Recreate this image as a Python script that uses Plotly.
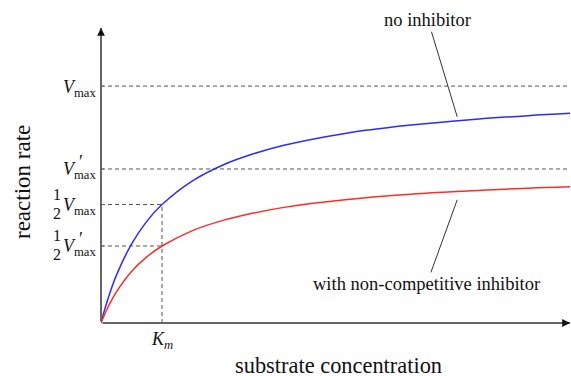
import plotly.graph_objects as go

# ---- data (Km = 1 unit, Vmax = 1 unit) ----
substrate = [0, 0.05, 0.1, 0.15, 0.25, 0.5, 0.75, 1.0, 1.5, 2.0, 2.5, 3.0, 4.0, 5.0, 6.0, 7.0, 7.7]
rate_no_inhibitor = [0, 0.048, 0.091, 0.130, 0.200, 0.333, 0.429, 0.500, 0.600, 0.667, 0.714,
                     0.750, 0.800, 0.833, 0.857, 0.875, 0.885]
rate_noncompetitive = [0, 0.031, 0.059, 0.085, 0.130, 0.217, 0.279, 0.325, 0.390, 0.433, 0.464,
                       0.488, 0.520, 0.542, 0.557, 0.569, 0.575]
Vmax = 1.0
Vmax_prime = 0.65
Km = 1.0
x_max = 469 / 61
y_max = 1.245

FONT = "Liberation Serif"
AX = "#666666"
DASH = "#555555"

fig = go.Figure()
fig.add_trace(go.Scatter(x=substrate, y=rate_no_inhibitor, mode="lines",
                         line=dict(color="#2b2bff", width=1.5, shape="spline"),
                         showlegend=False, hoverinfo="skip"))
fig.add_trace(go.Scatter(x=substrate, y=rate_noncompetitive, mode="lines",
                         line=dict(color="#ff2a2a", width=1.5, shape="spline"),
                         showlegend=False, hoverinfo="skip"))

shapes = []
dash = dict(color=DASH, width=1, dash="4px,3px")
for v in (Vmax, Vmax_prime):
    shapes.append(dict(type="line", xref="paper", yref="y", x0=0, x1=1, y0=v, y1=v,
                       line=dash, layer="below"))
for v in (Vmax / 2, Vmax_prime / 2):
    shapes.append(dict(type="line", xref="x", yref="y", x0=0, x1=Km, y0=v, y1=v,
                       line=dash, layer="below"))
shapes.append(dict(type="line", xref="x", yref="y", x0=Km, x1=Km, y0=0, y1=Vmax / 2,
                   line=dash, layer="below"))
# y-tick marks
for v in (Vmax, Vmax_prime, Vmax / 2, Vmax_prime / 2):
    shapes.append(dict(type="line", xref="x", yref="y", xsizemode="pixel", xanchor=0,
                       x0=0, x1=3, y0=v, y1=v, line=dict(color=AX, width=1)))
# fraction bars
for v in (Vmax / 2, Vmax_prime / 2):
    shapes.append(dict(type="line", xref="x", yref="y", xsizemode="pixel", ysizemode="pixel",
                       xanchor=0, yanchor=v, x0=-49, x1=-38, y0=1, y1=1,
                       line=dict(color="#111", width=1)))

annotations = []
# axes with arrows
annotations.append(dict(x=0, y=y_max, ax=0, ay=0, xref="x", yref="y", axref="x", ayref="y",
                        showarrow=True, arrowhead=0, arrowwidth=2, arrowcolor=AX, text=""))
annotations.append(dict(x=x_max, y=0, ax=0, ay=0, xref="x", yref="y", axref="x", ayref="y",
                        showarrow=True, arrowhead=0, arrowwidth=2, arrowcolor=AX, text=""))
annotations.append(dict(x=0, y=y_max, ax=0, ay=6, xref="x", yref="y",
                        showarrow=True, arrowhead=2, arrowsize=1.3, arrowwidth=1.2, arrowcolor="#111", text=""))
annotations.append(dict(x=x_max, y=0, ax=-6, ay=0, xref="x", yref="y",
                        showarrow=True, arrowhead=2, arrowsize=1.3, arrowwidth=1.2, arrowcolor="#111", text=""))

tf = dict(family=FONT, size=18, color="#111")
# y tick labels
for v in (Vmax, Vmax_prime, Vmax / 2, Vmax_prime / 2):
    annotations.append(dict(x=0, y=v, xref="x", yref="y", xanchor="right", yanchor="middle",
                            xshift=-3, yshift=-2, showarrow=False,
                            text="<i>V</i><sub>max</sub>", font=tf))
for v in (Vmax_prime, Vmax_prime / 2):
    annotations.append(dict(x=0, y=v, xref="x", yref="y", xanchor="center", yanchor="middle",
                            xshift=-20, yshift=7, showarrow=False, text="′", font=tf))
for v in (Vmax / 2, Vmax_prime / 2):
    annotations.append(dict(x=0, y=v, xref="x", yref="y", xanchor="center", yanchor="middle",
                            xshift=-44, yshift=10, showarrow=False, text="1",
                            font=dict(family=FONT, size=16, color="#111")))
    annotations.append(dict(x=0, y=v, xref="x", yref="y", xanchor="center", yanchor="middle",
                            xshift=-44, yshift=-9, showarrow=False, text="2",
                            font=dict(family=FONT, size=16, color="#111")))
# Km label
annotations.append(dict(x=Km, y=0, xref="x", yref="y", xanchor="center", yanchor="top",
                        yshift=-4, showarrow=False, text="<i>K<sub>m</sub></i>", font=tf))

# curve labels with leader lines
lf = dict(family=FONT, size=18.5, color="#111")
annotations.append(dict(x=5.84, y=0.87, ax=5.36, ay=1.278, xref="x", yref="y", axref="x", ayref="y",
                        showarrow=True, arrowhead=0, arrowwidth=1, arrowcolor="#333",
                        text="no inhibitor", font=lf))
annotations.append(dict(x=5.84, y=0.52, ax=5.34, ay=0.165, xref="x", yref="y", axref="x", ayref="y",
                        showarrow=True, arrowhead=0, arrowwidth=1, arrowcolor="#333",
                        text="with non-competitive inhibitor", font=lf))

pw, ph = 571 - 101 - 1, 376 - 28 - 53
# axis titles
annotations.append(dict(x=(338 - 101) / pw, y=(323 - 365) / ph, xref="paper", yref="paper",
                        xanchor="center", yanchor="middle", showarrow=False,
                        text="substrate concentration", font=dict(family=FONT, size=22.4, color="#111")))
annotations.append(dict(x=(22 - 101) / pw, y=(323 - 182) / ph, xref="paper", yref="paper",
                        xanchor="center", yanchor="middle", showarrow=False, textangle=-90,
                        text="reaction rate", font=dict(family=FONT, size=23, color="#111")))

fig.update_layout(
    width=571, height=376,
    margin=dict(l=101, r=1, t=28, b=53),
    paper_bgcolor="white", plot_bgcolor="white",
    xaxis=dict(range=[0, x_max], visible=False),
    yaxis=dict(range=[0, y_max], visible=False),
    shapes=shapes, annotations=annotations,
)

fig.write_html("out.html", config={"displayModeBar": False},
               post_script="document.body.style.margin='0';document.body.style.overflow='hidden';")
